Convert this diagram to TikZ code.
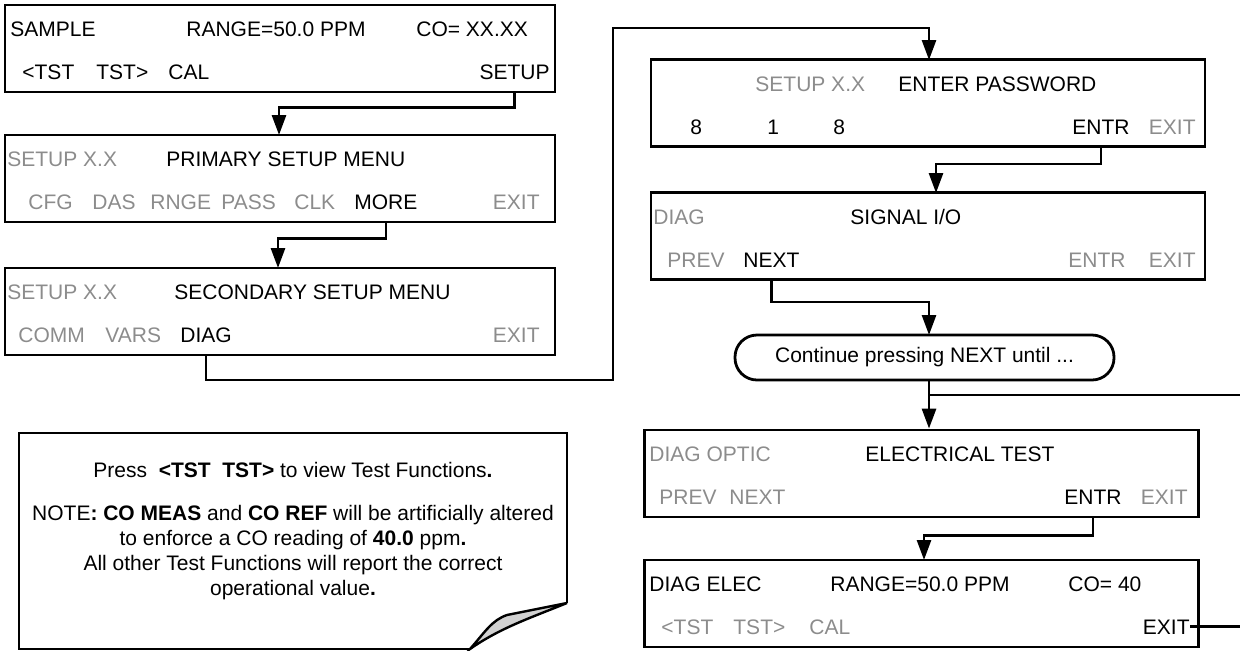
\documentclass[tikz,border=0pt]{standalone}
\usepackage{fontspec}
\setmainfont{Liberation Sans}
\usetikzlibrary{arrows.meta,calc}

\newcommand{\lcdfont}{\fontsize{10.5}{12.5}\selectfont}

\begin{document}
\begin{tikzpicture}[
  x=0.5pt, y=-0.5pt,
  font=\lcdfont,
  lcd/.style={draw, line width=1.4pt, minimum width=275pt,
              minimum height=43.5pt, inner sep=0pt},
  lcdr/.style={lcd, minimum width=277pt},
  key/.style={inner sep=0pt, anchor=base west},
  keyr/.style={inner sep=0pt, anchor=base east},
  dim/.style={text=black!45},
  hint/.style={draw, line width=1.4pt, rounded corners=11pt,
               minimum width=189.5pt, minimum height=22.5pt, inner sep=0pt},
  flow/.style={line width=1.4pt, -{Triangle[length=10pt,width=7pt]}},
  link/.style={line width=1.4pt}
]
\useasboundingbox (0,0) rectangle (1240,650);

%% Left column: front panel screens
\node[lcd] (sample) at (280,48.5) {};
\node[key] at (10,36) {SAMPLE};
\node[key] at (186,36) {RANGE=50.0 PPM};
\node[key] at (416,36) {CO= XX.XX};
\node[key] at (22,79) {<TST};
\node[key] at (96,79) {TST>};
\node[key] at (168,79) {CAL};
\node[keyr] (setup_key) at (550,79) {SETUP};

\node[lcd] (primary) at (280,178.5) {};
\node[key, dim] at (7,166) {SETUP X.X};
\node[key] at (166,166) {PRIMARY SETUP MENU};
\node[key, dim] at (28,209) {CFG};
\node[key, dim] at (92,209) {DAS};
\node[key, dim] at (150,209) {RNGE};
\node[key, dim] at (221,209) {PASS};
\node[key, dim] at (294,209) {CLK};
\node[key] (more_key) at (354,209) {MORE};
\node[keyr, dim] at (540,209) {EXIT};

\node[lcd] (secondary) at (280,311.5) {};
\node[key, dim] at (7,299) {SETUP X.X};
\node[key] at (174,299) {SECONDARY SETUP MENU};
\node[key, dim] at (18,342) {COMM};
\node[key, dim] at (105,342) {VARS};
\node[key] (diag_key) at (180,342) {DIAG};
\node[keyr, dim] at (540,342) {EXIT};

%% Right column: diagnostic screens
\node[lcdr] (passwd) at (928,103) {};
\node[key, dim] at (755,91) {SETUP X.X};
\node[key] at (898,91) {ENTER PASSWORD};
\node[key] at (690,134) {8};
\node[key] at (767,134) {1};
\node[key] at (833,134) {8};
\node[key] (entr_pw) at (1072,134) {ENTR};
\node[keyr, dim] at (1196,134) {EXIT};

\node[lcdr] (sigio) at (928,236) {};
\node[key, dim] at (653,224) {DIAG};
\node[key] at (850,224) {SIGNAL I/O};
\node[key, dim] at (667,267) {PREV};
\node[key] (next_key) at (743,267) {NEXT};
\node[key, dim] at (1068,267) {ENTR};
\node[keyr, dim] at (1196,267) {EXIT};

\node[hint] (cont) at (924.5,357.5) {Continue pressing NEXT until ...};

\node[lcdr] (elec) at (921.5,473.5) {};
\node[key, dim] at (649,461) {DIAG OPTIC};
\node[key] at (865,461) {ELECTRICAL TEST};
\node[key, dim] at (659,504) {PREV};
\node[key, dim] at (729,504) {NEXT};
\node[key] (entr_el) at (1064,504) {ENTR};
\node[keyr, dim] at (1188,504) {EXIT};

\node[lcdr] (diagelec) at (921.5,603.5) {};
\node[key] at (649,591) {DIAG ELEC};
\node[key] at (830,591) {RANGE=50.0 PPM};
\node[key] at (1068,591) {CO= 40};
\node[key, dim] at (661,634) {<TST};
\node[key, dim] at (733,634) {TST>};
\node[key, dim] at (809,634) {CAL};
\node[keyr] (exit_key) at (1190,634) {EXIT};

%% Drop points on the screens
\coordinate (t2) at (279,135);
\coordinate (t3) at (278,268);
\coordinate (w1) at (613,380);
\coordinate (w2) at (613,28);
\coordinate (t4) at (929,60);
\coordinate (t5) at (936,193);
\coordinate (t6) at (929,335);
\coordinate (jn) at (929,395);
\coordinate (t8) at (924,560);
\coordinate (edge) at (1240,0);

%% Key presses
\draw[flow] (setup_key |- sample.south) -- ++(0,14) -| (t2);
\draw[flow] (more_key |- primary.south) -- ++(0,15) -| (t3);
\draw[flow] (diag_key |- secondary.south) |- (w1) -- (w2) -| (t4);
\draw[flow] (entr_pw |- passwd.south) -- ++(0,16) -| (t5);
\draw[flow] (next_key |- sigio.south) -- ++(0,21) -| (t6);
\draw[flow] (t6 |- cont.south) -- (t6 |- elec.north);
\draw[flow] (entr_el |- elec.south) -- ++(0,17) -| (t8);

%% Return loop from EXIT
\draw[link] (jn) -- (jn -| edge);
\draw[link] (exit_key.east) -- (exit_key.east -| edge);

%% Note sheet with folded corner
\draw[black!25, line width=0.8pt] (19,649) -- (470,649);
\draw[line width=1.2pt] (470,649) -- (19,649) -- (19,433) -- (567,433) -- (567,603);
\draw[line width=1.2pt, fill=black!18] (567,603)
    .. controls (530,618) and (500,628) .. (470,649)
    .. controls (485,632) and (492,620) .. (507,615) -- cycle;
\node[align=center] (note) at (293,531)
  {Press\ \ \textbf{<TST\ \ TST>} to view Test Functions\textbf{.}\\[9pt]
   NOTE\textbf{:} \textbf{CO MEAS} and \textbf{CO REF} will be artificially altered\\
   to enforce a CO reading of \textbf{40.0} ppm\textbf{.}\\
   All other Test Functions will report the correct\\
   operational value\textbf{.}};

\end{tikzpicture}
\end{document}
